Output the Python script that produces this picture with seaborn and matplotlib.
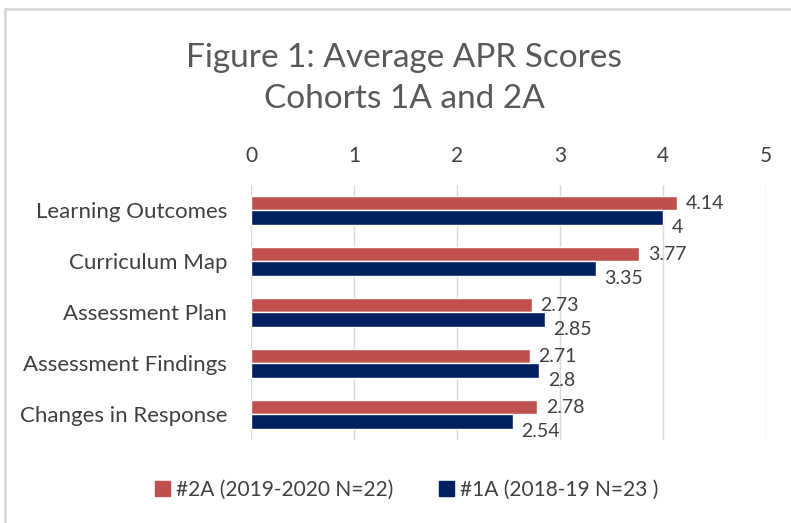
import pandas as pd
import matplotlib.pyplot as plt
import seaborn as sns
from matplotlib.patches import Rectangle
from matplotlib.lines import Line2D

# Chart data
categories = ["Learning Outcomes", "Curriculum Map", "Assessment Plan",
              "Assessment Findings", "Changes in Response"]
cohort_2a = [4.14, 3.77, 2.73, 2.71, 2.78]
cohort_1a = [4, 3.35, 2.85, 2.8, 2.54]
series_names = ["#2A (2019-2020 N=22)", "#1A (2018-19 N=23 )"]
x_ticks = [0, 1, 2, 3, 4, 5]

data = pd.DataFrame({
    "Category": categories * 2,
    "Score": cohort_2a + cohort_1a,
    "Cohort": [series_names[0]] * len(categories) + [series_names[1]] * len(categories),
})

colors = {series_names[0]: "#C0504D", series_names[1]: "#002060"}
text_color = "#404040"

sns.set_style("white")
plt.rcParams["font.family"] = ["Lato", "DejaVu Sans"]

fig = plt.figure(figsize=(7.91, 5.23), dpi=100)
ax = fig.add_axes([0.3173, 0.1587, 0.6511, 0.4876])

sns.barplot(data=data, y="Category", x="Score", hue="Cohort", order=categories,
            hue_order=series_names, palette=colors, orient="h", width=0.56,
            saturation=1, ax=ax, legend=True)

ax.set_xlim(0, 5)
ax.set_xticks(x_ticks)
ax.xaxis.tick_top()
ax.tick_params(axis="both", length=0, colors=text_color)
ax.tick_params(axis="x", pad=14, labelsize=15)
ax.tick_params(axis="y", pad=17, labelsize=16)
ax.grid(axis="x", color="#D9D9D9", linewidth=1)
ax.set_axisbelow(True)
for s in ax.spines.values():
    s.set_visible(False)
ax.set_xlabel("")
ax.set_ylabel("")

# Value labels: red ones beside the bar, navy ones nudged a little below
for i, cont in enumerate(ax.containers):
    dy = 0 if i == 0 else -7
    labels = ax.bar_label(cont, labels=[f"{v:g}" for v in cont.datavalues],
                          padding=6, fontsize=14, color=text_color)
    for t in labels:
        x, y = t.xyann
        t.xyann = (x, dy)

ax.legend_.remove()
handles = [Rectangle((0, 0), 1, 1, color=colors[n]) for n in series_names]
fig.legend(handles, series_names, loc="center", bbox_to_anchor=(0.514, 0.063),
           ncol=2, frameon=False, fontsize=15, labelcolor=text_color,
           handlelength=0.7, handleheight=0.7, handletextpad=0.3, columnspacing=2.2)

fig.text(0.511, 0.85, "Figure 1: Average APR Scores\nCohorts 1A and 2A", ha="center",
         va="center", fontsize=24, color="#595959", linespacing=1.45)

# Chart frame (only the top and left edges show in the crop)
fig.lines.append(Line2D([5 / 791, 5 / 791], [0, 1 - 9 / 523], transform=fig.transFigure,
                        color="#D9D9D9", linewidth=2))
fig.lines.append(Line2D([5 / 791, 1], [1 - 9 / 523, 1 - 9 / 523], transform=fig.transFigure,
                        color="#D9D9D9", linewidth=2))

plt.savefig("out.png", dpi=100)
